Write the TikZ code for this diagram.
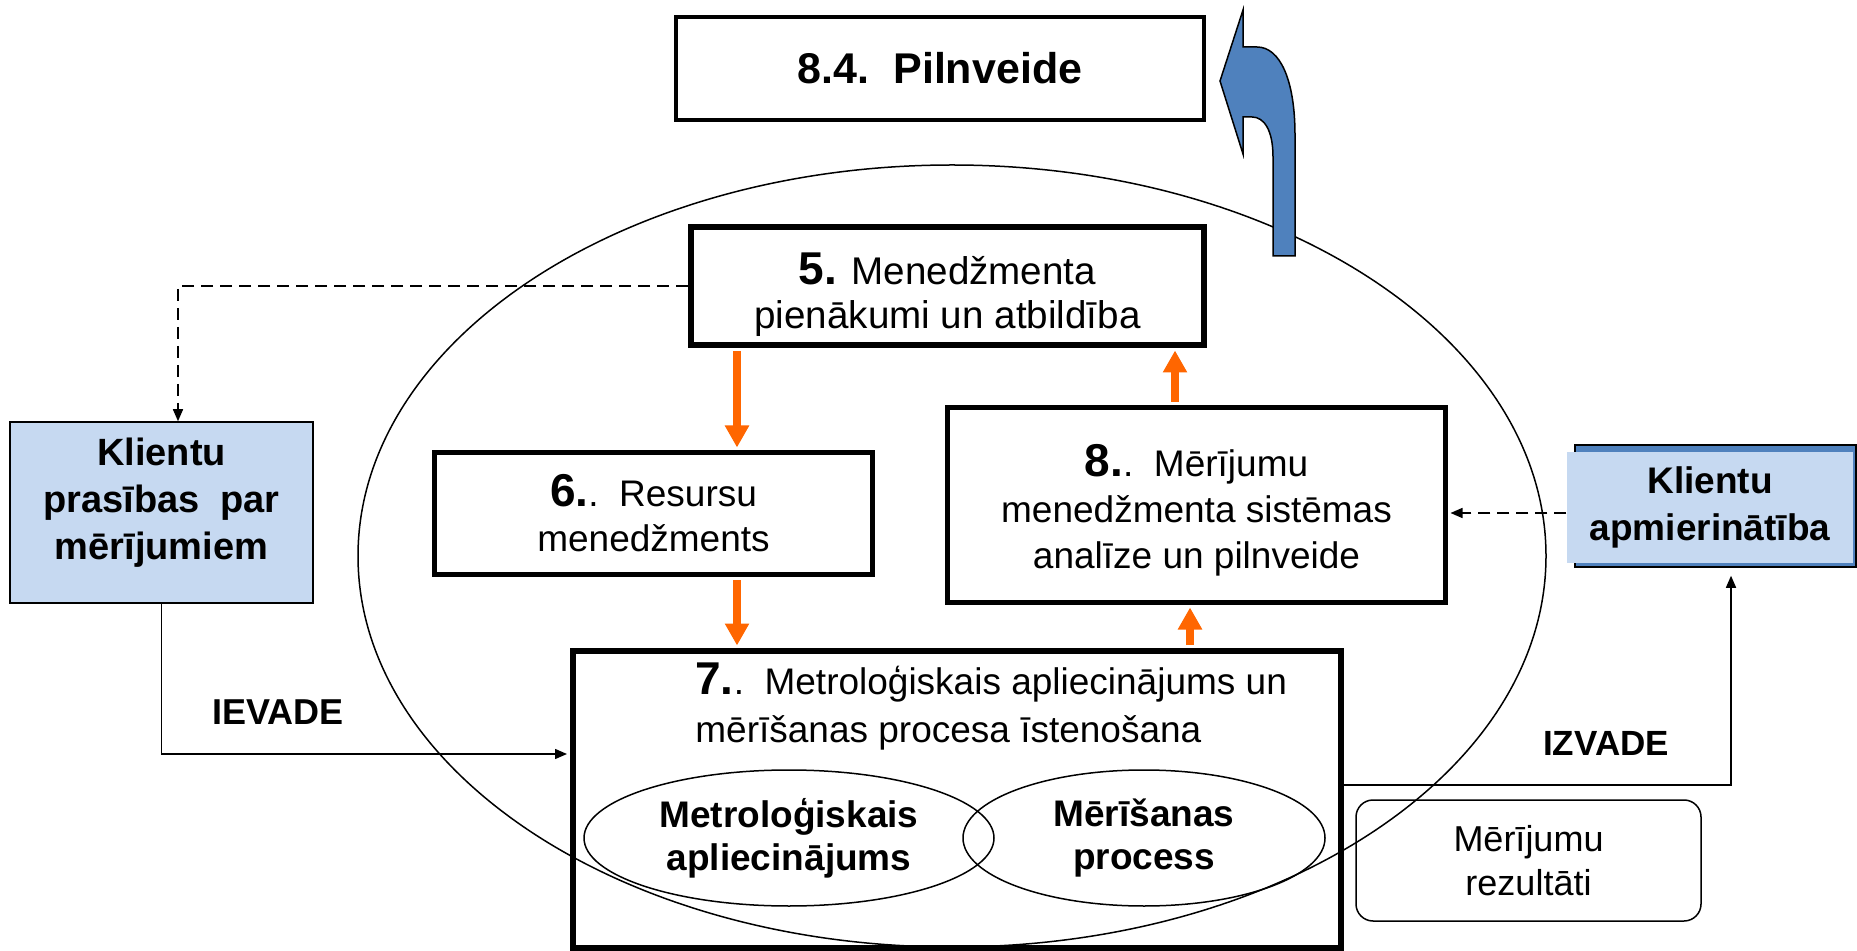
\documentclass[tikz,border=0pt]{standalone}
\usepackage{fontspec}
\setmainfont{Liberation Sans}
\usetikzlibrary{positioning,shapes.geometric,arrows.meta}
\definecolor{oranz}{HTML}{FF6600}
\definecolor{zils}{HTML}{4F81BD}
\definecolor{gaisizils}{HTML}{C6D9F1}
\newcommand\numurs[1]{{\bfseries\fontsize{23}{23}\selectfont #1}}

\begin{document}
\begin{tikzpicture}
  [ x=0.5pt, y=-0.5pt,
    bx1/.style={rectangle, draw=black, line width=2.5pt, fill=white, align=center, inner sep=0pt, font=\fontsize{18.5}{23}\selectfont},
    bx2/.style={rectangle, draw=black, line width=0.75pt, fill=gaisizils, align=center, inner sep=0pt, font=\bfseries\fontsize{19}{23.5}\selectfont},
    el1/.style={ellipse, draw=black, line width=0.75pt, align=center, inner sep=0pt, font=\bfseries\fontsize{18.5}{21.5}\selectfont},
    txt1/.style={inner sep=0pt, font=\bfseries\fontsize{18}{22}\selectfont},
    line1/.style={-{Triangle[length=11pt,width=11.5pt]}, line width=4pt, oranz, shorten <=1.5pt, shorten >=1.25pt},
    line2/.style={-{Triangle[length=6pt,width=5pt]}, line width=0.75pt, black},
    line3/.style={line2, dash pattern=on 6pt off 3.5pt}
  ]
  \useasboundingbox (0,0) rectangle (1857,951);

  \draw[line width=0.75pt] (952,556) ellipse [x radius=297pt, y radius=195.5pt];

  \node[bx1, line width=2pt, minimum width=264pt, minimum height=51.5pt, font=\bfseries\fontsize{21.5}{24}\selectfont] (pilnveide) at (940,68.5) {8.4.\ \ Pilnveide};
  \node[bx1, line width=3pt, minimum width=256.5pt, minimum height=59pt,
    label={[align=center, yshift=-4.5pt, font=\fontsize{19.3}{22}\selectfont]center:{\numurs{5.} Menedžmenta\\pienākumi un atbildība}}] (vadiba) at (947.5,286) {};
  \node[bx1, minimum width=219pt, minimum height=61pt, font=\fontsize{18.5}{22.5}\selectfont] (resursi) at (653.5,513.5) {\numurs{6.}.\ \ Resursu\\menedžments};
  \node[bx1, minimum width=249pt, minimum height=97.5pt,
    label={[align=center, yshift=-2.5pt, font=\fontsize{18.5}{23}\selectfont]center:{\numurs{8.}.\ \ Mērījumu\\menedžmenta sistēmas\\analīze un pilnveide}}] (analize) at (1196.5,505) {};
  \node[bx1, line width=3pt, fill=none, minimum width=384pt, minimum height=148.5pt] (procesi) at (957,799.5) {};
  \node[inner sep=0pt, anchor=north west, align=left, font=\fontsize{18.5}{24}\selectfont] (procesiteksts) at (695,662) {\numurs{7.}.\ \ Metroloģiskais apliecinājums un\\mērīšanas procesa īstenošana};
  \node[el1, minimum width=205pt, minimum height=68pt] (metrapl) at (789,838) {Metroloģiskais\\apliecinājums};
  \node[el1, minimum width=181pt, minimum height=68pt] (meris) at (1144,838) {Mērīšanas\\process};

  \node[bx2, minimum width=151.5pt, minimum height=90.5pt,
    label={[align=center, yshift=5pt, font=\bfseries\fontsize{19}{23.5}\selectfont]center:{Klientu\\prasības\ \ par\\mērījumiem}}] (prasibas) at (161.5,512.5) {};
  \node[bx2, fill=zils, minimum width=140.5pt, minimum height=61pt] (apmierinfons) at (1715.5,506) {};
  \node[bx2, draw=none, minimum width=143pt, minimum height=55.5pt, font=\bfseries\fontsize{18.5}{23.5}\selectfont] (apmierin) at (1710,507.5) {Klientu\\apmierinātība};
  \node[rectangle, rounded corners=8.5pt, draw=black, line width=0.75pt, align=center, inner sep=0pt, minimum width=172.5pt, minimum height=60.5pt, font=\fontsize{18}{22}\selectfont] (rezultati) at (1528.5,860.5) {Mērījumu\\rezultāti};

  \node[txt1] (ievade) at (278,712) {IEVADE};
  \node[txt1, font=\bfseries\fontsize{17.5}{22}\selectfont] (izvade) at (1606,743) {IZVADE};

  \coordinate (xa) at (737,0);
  \coordinate (xb) at (1175,0);
  \coordinate (xc) at (1190,0);

  \draw[line1] (vadiba.south -| xa) -- (resursi.north -| xa);
  \draw[line1] (resursi.south -| xa) -- (procesi.north -| xa);
  \draw[line1] (procesi.north -| xc) -- (analize.south -| xc);
  \draw[line1] (analize.north -| xb) -- (vadiba.south -| xb);

  \draw[line3] (vadiba.west) -| ([xshift=8.25pt]prasibas.north);
  \draw[line3, shorten >=1.25pt] ([yshift=-2.75pt]apmierin.west) -- ([yshift=-2.75pt]apmierin.west -| analize.east);
  \draw[line2, shorten >=1.5pt] (prasibas.south) |- ([yshift=22.75pt]procesi.west);
  \draw[line2, shorten >=4pt] ([yshift=7.25pt]procesi.east) -| ([xshift=7.75pt]apmierinfons.south);

  \draw[fill=zils, line width=0.75pt] (1273,256) -- (1273,157) .. controls (1273,130) and (1264,117) .. (1252,117)
    -- (1243,117) -- (1243,154) -- (1220,81) -- (1243,10) -- (1243,47) -- (1257,47)
    .. controls (1280,47) and (1295,80) .. (1295,135) -- (1295,256) -- cycle;
\end{tikzpicture}
\end{document}
